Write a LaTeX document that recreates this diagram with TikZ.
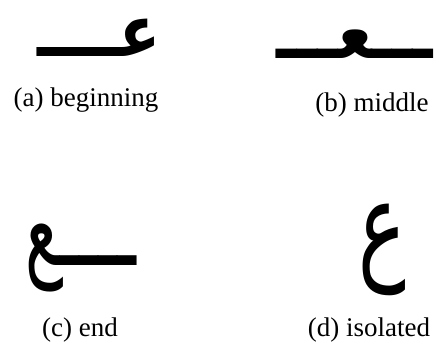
\documentclass[tikz,border=0pt]{standalone}
\usepackage{fontspec}
\setmainfont{Liberation Serif}
\newfontfamily\arabicfont[Script=Arabic]{DejaVu Sans}
\TeXXeTstate=1
\tikzset{
  lbl/.style={font=\fontsize{27}{30}\selectfont, inner sep=0pt},
  glyph/.style={font=\arabicfont\bfseries\fontsize{60}{60}\selectfont, inner sep=0pt},
  thinglyph/.style={font=\arabicfont\fontsize{68}{68}\selectfont, inner sep=0pt}
}
\begin{document}
\begin{tikzpicture}[x=1pt,y=-1pt]
\useasboundingbox (0,0) rectangle (440,353);
\node[glyph] (ga) at (99,38) {\scalebox{1.0}[1.2]{\beginR عــــ\endR}};
\node[lbl] (la) at (86,100) {(a) beginning};
\node[glyph] (gb) at (355,44) {\scalebox{1.0}[1.25]{\beginR ـــعـــ\endR}};
\node[lbl] (lb) at (372,105) {(b) middle};
\node[thinglyph] (gc) at (81,258) {\scalebox{0.95}[1.6]{\beginR ــــع\endR}};
\node[lbl] (lc) at (80,330) {(c) end};
\node[thinglyph, font=\arabicfont\fontsize{80}{80}\selectfont] (gd) at (382,250) {\scalebox{1.0}[1.5]{\beginR ع\endR}};
\node[lbl] (ld) at (369,330) {(d) isolated};
\end{tikzpicture}
\end{document}
